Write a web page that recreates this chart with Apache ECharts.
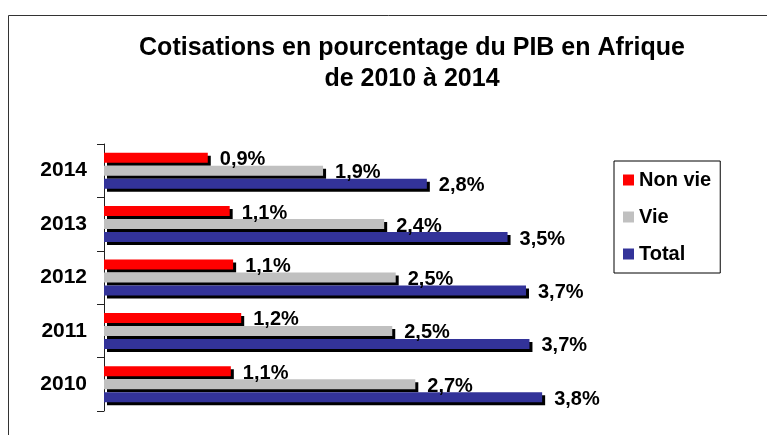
<!DOCTYPE html>
<html>
<head>
<meta charset="utf-8">
<script src="https://cdn.jsdelivr.net/npm/echarts@6/dist/echarts.min.js"></script>
<style>
  html, body { margin: 0; padding: 0; background: #fff; }
  #chart { width: 767px; height: 435px; }
</style>
</head>
<body>
<div id="chart"></div>
<script>
const years = ['2010', '2011', '2012', '2013', '2014']
const nonVie = [1.10, 1.19, 1.12, 1.09, 0.90]
const vie = [2.70, 2.50, 2.53, 2.43, 1.90]
const total = [3.80, 3.69, 3.66, 3.50, 2.80]

const FONT = "'Liberation Sans', Arial, sans-serif"

const fmt = p => p.value.toFixed(1).replace('.', ',') + '%'

const barBase = (name, data, color) => ({
  name,
  type: 'bar',
  data,
  barWidth: 10,
  barGap: '30%',
  itemStyle: {
    color,
    shadowColor: '#000',
    shadowBlur: 0,
    shadowOffsetX: 3,
    shadowOffsetY: 3
  },
  label: {
    show: true,
    position: 'right',
    distance: 12,
    offset: [0, 2],
    color: '#000',
    fontFamily: FONT,
    fontWeight: 'bold',
    fontSize: 20,
    formatter: fmt
  }
})

const chart = echarts.init(document.getElementById('chart'))

chart.setOption({
  animation: false,
  backgroundColor: '#fff',
  graphic: [{
    type: 'rect',
    shape: { x: 8.5, y: 15.5, width: 800, height: 500 },
    style: { fill: 'none', stroke: '#333', lineWidth: 1 },
    silent: true,
    z: -10
  }],
  title: {
    text: 'Cotisations en pourcentage du PIB en Afrique\nde 2010 à 2014',
    left: 407,
    top: 28,
    textAlign: 'center',
    textStyle: {
      fontFamily: FONT,
      fontWeight: 'bold',
      fontSize: 25,
      lineHeight: 31,
      color: '#000'
    }
  },
  legend: {
    orient: 'vertical',
    left: 614,
    top: 161,
    padding: [9, 9, 9, 9],
    itemGap: 17,
    itemWidth: 11,
    itemHeight: 11,
    icon: 'rect',
    borderColor: '#000',
    borderWidth: 1,
    textStyle: {
      fontFamily: FONT,
      fontWeight: 'bold',
      fontSize: 20,
      color: '#000'
    },
    data: ['Non vie', 'Vie', 'Total']
  },
  grid: {
    left: 104,
    top: 144,
    width: 576.5,
    height: 267
  },
  xAxis: {
    type: 'value',
    min: 0,
    max: 5,
    show: false
  },
  yAxis: {
    type: 'category',
    data: years,
    axisLine: { show: true, lineStyle: { color: '#222', width: 1 } },
    axisTick: { show: true, length: 7, lineStyle: { color: '#222', width: 1 } },
    axisLabel: {
      margin: 17,
      color: '#000',
      fontFamily: FONT,
      fontWeight: 'bold',
      fontSize: 21
    }
  },
  series: [
    barBase('Non vie', nonVie, '#FF0000'),
    barBase('Vie', vie, '#C0C0C0'),
    barBase('Total', total, '#333399')
  ]
})
</script>
</body>
</html>
